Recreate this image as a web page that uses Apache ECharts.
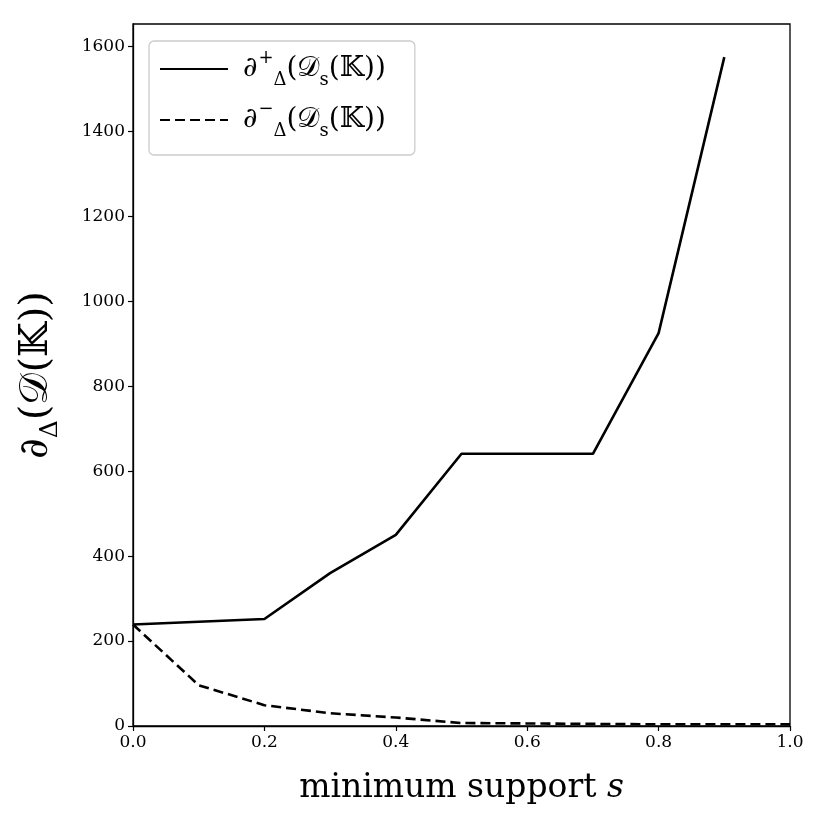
<!DOCTYPE html>
<html><head><meta charset="utf-8">
<script src="https://cdn.jsdelivr.net/npm/echarts@6/dist/echarts.min.js"></script>
<style>html,body{margin:0;padding:0;background:#fff}#c{width:830px;height:830px}</style>
</head><body><div id="c"></div>
<script>
var xValues = [0.0, 0.1, 0.2, 0.3, 0.4, 0.5, 0.6, 0.7, 0.8, 0.9, 1.0];
var plusValues = [239, null, 252, 360, 450, 641, 641, 641, 925, 1575, null];
var minusValues = [239, 96, 49, 30, 20, 7, 6, 5, 4, 4, 4];
var xTicks = [0.0, 0.2, 0.4, 0.6, 0.8, 1.0];
var yTicks = [0, 200, 400, 600, 800, 1000, 1200, 1400, 1600];
var seriesNames = ['plus', 'minus'];

function pairs(xs, ys){ var o=[]; for(var i=0;i<xs.length;i++){ if(ys[i]!==null) o.push([xs[i], ys[i]]);} return o; }

var serif = 'DejaVu Serif';
var chart = echarts.init(document.getElementById('c'), null, {renderer:'canvas'});
var rich = {
  d:{fontFamily:serif,fontSize:28,color:'#000',lineHeight:40},
  sup:{fontFamily:serif,fontSize:18,color:'#000',verticalAlign:'top',lineHeight:40,padding:[0,0,0,1]},
  sub:{fontFamily:serif,fontSize:18,color:'#000',verticalAlign:'bottom',lineHeight:40},
  t:{fontFamily:serif,fontSize:28,color:'#000',lineHeight:40}
};
chart.setOption({
  animation:false,
  backgroundColor:'#fff',
  grid:{left:133,right:40,top:24,bottom:104,show:true,borderColor:'#000',borderWidth:1.3,containLabel:false,outerBoundsMode:'none'},
  xAxis:{type:'value',min:0,max:1,interval:0.2,
    axisLine:{show:true,lineStyle:{color:'#000',width:1.3}},
    axisTick:{show:true,length:5,inside:false,lineStyle:{color:'#000',width:1.2}},
    splitLine:{show:false},
    axisLabel:{color:'#000',fontFamily:serif,fontSize:17,margin:8,formatter:function(v){return v.toFixed(1);}},
    name:'minimum support {i|s}',nameLocation:'middle',nameGap:46,
    nameTextStyle:{color:'#000',fontFamily:serif,fontSize:33,rich:{i:{fontFamily:serif,fontSize:33,fontStyle:'italic',color:'#000'}}}
  },
  yAxis:{type:'value',min:0,max:1653,interval:200,
    axisLine:{show:true,lineStyle:{color:'#000',width:1.3}},
    axisTick:{show:true,length:5,lineStyle:{color:'#000',width:1.2}},
    splitLine:{show:false},
    axisLabel:{color:'#000',fontFamily:serif,fontSize:17,margin:8,showMaxLabel:false,
      formatter:function(v){return yTicks.indexOf(v)>=0?String(v):'';}},
    name:'{d|∂}{sub|Δ}{t|(𝒟(𝕂))}',nameLocation:'middle',nameGap:70,nameRotate:90,
    nameTextStyle:{color:'#000',rich:{
      d:{fontFamily:serif,fontSize:40,color:'#000'},
      sub:{fontFamily:serif,fontSize:25,color:'#000',verticalAlign:'bottom',lineHeight:52},
      t:{fontFamily:serif,fontSize:40,color:'#000'}}}
  },
  legend:{show:true,orient:'vertical',left:149,top:41,
    padding:[8,29,15,10],itemGap:11,itemWidth:68,itemHeight:14,
    borderColor:'#cccccc',borderWidth:1.3,borderRadius:5,backgroundColor:'#fff',
    itemStyle:{opacity:0},
    data:seriesNames,
    textStyle:{rich:rich},
    formatter:function(n){
      return n==='plus' ? '   {d|∂}{sup|+}{sub|Δ}{t|(𝒟}{sub|s}{t|(𝕂))}' : '   {d|∂}{sup|−}{sub|Δ}{t|(𝒟}{sub|s}{t|(𝕂))}';
    }
  },
  series:[
    {name:seriesNames[0],type:'line',data:pairs(xValues,plusValues),showSymbol:false,symbol:'none',
      lineStyle:{color:'#000',width:2.6,type:'solid'},itemStyle:{color:'#000'}},
    {name:seriesNames[1],type:'line',data:pairs(xValues,minusValues),showSymbol:false,symbol:'none',
      lineStyle:{color:'#000',width:2.6,type:[10,5]},itemStyle:{color:'#000'}}
  ]
});
</script></body></html>
